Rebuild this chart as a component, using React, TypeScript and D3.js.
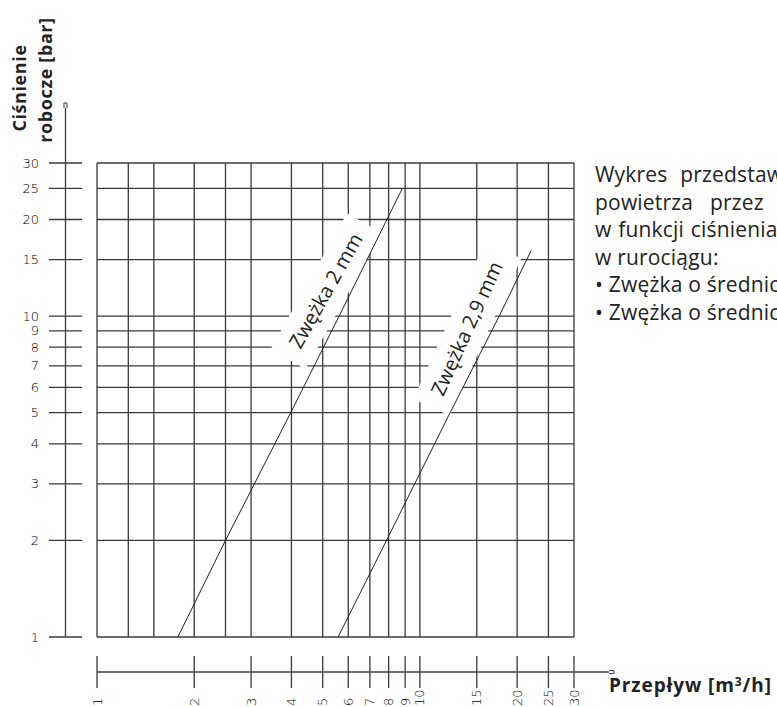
import React, { useRef, useEffect } from 'react';
import * as d3 from 'd3';

// bottom axis: flow [m3/h]
const flowTicks = [1, 2, 3, 4, 5, 6, 7, 8, 9, 10, 15, 20, 25, 30];
// vertical grid lines without a tick on the axis
const flowGridExtra = [1.25, 1.5, 2.5];
// left axis: working pressure [bar]
const pressureTicks = [1, 2, 3, 4, 5, 6, 7, 8, 9, 10, 15, 20, 25, 30];

// orifice 2 mm (pressure bar -> flow m3/h)
const orifice2Pressure = [1, 2, 5, 10, 25];
const orifice2Flow = [1.78, 2.5, 3.98, 5.62, 8.82];

// orifice 2,9 mm
const orifice29Pressure = [1, 2, 5, 10, 16];
const orifice29Flow = [5.58, 7.88, 12.4, 17.6, 22.1];

const seriesNames = ['Zwężka 2 mm', 'Zwężka 2,9 mm'];
const labelPressure = [11, 8.5];

const noteLines = [
  'Wykres przedstawia przepływ',
  'powietrza przez zwężkę',
  'w funkcji ciśnienia roboczego',
  'w rurociągu:',
  '• Zwężka o średnicy 2 mm',
  '• Zwężka o średnicy 2,9 mm',
];
const noteWordSpacing = [7, 11, 1, 0, 0, 0];

const sans = "'Open Sans', 'Noto Sans', sans-serif";
const cad = "'DejaVu Sans', sans-serif";

function Chart() {
  const ref = useRef<SVGSVGElement | null>(null);

  useEffect(() => {
    const svg = d3.select(ref.current);
    svg.selectAll('*').remove();

    const x = d3.scaleLog().domain([1, 30]).range([97, 574]);
    const y = d3.scaleLog().domain([1, 30]).range([637, 163]);
    const ink = '#3a3a3a';

    // grid
    const grid = svg.append('g').attr('stroke', ink).attr('stroke-width', 1.3);
    grid.selectAll('line.h')
      .data(pressureTicks)
      .enter()
      .append('line')
      .attr('x1', x(1)).attr('x2', x(30))
      .attr('y1', (d) => y(d)).attr('y2', (d) => y(d));
    grid.selectAll('line.v')
      .data(flowTicks.concat(flowGridExtra))
      .enter()
      .append('line')
      .attr('x1', (d) => x(d)).attr('x2', (d) => x(d))
      .attr('y1', y(1)).attr('y2', y(30));

    // left axis
    const axisX = 65.5;
    const left = svg.append('g');
    left.append('line')
      .attr('x1', axisX).attr('x2', axisX).attr('y1', 108).attr('y2', y(1))
      .attr('stroke', ink).attr('stroke-width', 1.3);
    left.append('path')
      .attr('d', `M${axisX - 1.5},108 L${axisX - 1.5},103 L${axisX + 1.5},103 L${axisX + 1.5},108`)
      .attr('fill', 'none').attr('stroke', ink).attr('stroke-width', 1);
    left.selectAll('line.t')
      .data(pressureTicks)
      .enter()
      .append('line')
      .attr('x1', 49).attr('x2', 82)
      .attr('y1', (d) => y(d)).attr('y2', (d) => y(d))
      .attr('stroke', ink).attr('stroke-width', 1.3);
    left.selectAll('text')
      .data(pressureTicks)
      .enter()
      .append('text')
      .attr('x', 39).attr('y', (d) => y(d))
      .attr('text-anchor', 'end')
      .attr('dominant-baseline', 'central')
      .style('font-family', cad).style('font-size', '13px').style('font-weight', 300)
      .attr('fill', '#000')
      .text((d) => d);

    // bottom axis
    const axisY = 672;
    const bottom = svg.append('g');
    bottom.append('line')
      .attr('x1', x(1)).attr('x2', 609).attr('y1', axisY).attr('y2', axisY)
      .attr('stroke', ink).attr('stroke-width', 1.3);
    bottom.append('path')
      .attr('d', `M609,${axisY - 1.5} L614,${axisY - 1.5} L614,${axisY + 1.5} L609,${axisY + 1.5}`)
      .attr('fill', 'none').attr('stroke', ink).attr('stroke-width', 1);
    bottom.selectAll('line.t')
      .data(flowTicks)
      .enter()
      .append('line')
      .attr('x1', (d) => x(d)).attr('x2', (d) => x(d))
      .attr('y1', 656).attr('y2', 688)
      .attr('stroke', ink).attr('stroke-width', 1.3);
    bottom.selectAll('text')
      .data(flowTicks)
      .enter()
      .append('text')
      .attr('transform', (d) => `translate(${x(d)},706) rotate(-90)`)
      .attr('text-anchor', 'start')
      .attr('dominant-baseline', 'central')
      .style('font-family', cad).style('font-size', '13px').style('font-weight', 300)
      .attr('fill', '#000')
      .text((d) => d);

    // curves with their labels on white bands
    const series = [
      { p: orifice2Pressure, q: orifice2Flow },
      { p: orifice29Pressure, q: orifice29Flow },
    ];
    series.forEach((s, k) => {
      const qOf = d3.scaleLog().domain(s.p).range(s.q);
      const lp = labelPressure[k];
      const px = x(qOf(lp));
      const py = y(lp);
      const ang = Math.atan2(y(lp * 1.2) - py, x(qOf(lp * 1.2)) - px) * 180 / Math.PI;
      const g = svg.append('g').attr('transform', `translate(${px},${py}) rotate(${ang})`);
      const band = g.append('rect').attr('fill', '#fff');
      const t = g.append('text')
        .attr('x', 0).attr('y', -25)
        .attr('text-anchor', 'middle')
        .attr('dominant-baseline', 'central')
        .style('font-family', sans).style('font-size', '20px')
        .attr('fill', '#222')
        .text(seriesNames[k]);
      const w = (t.node() as SVGTextElement).getComputedTextLength();
      band.attr('x', -w / 2 - 14).attr('width', w + 28).attr('y', -44).attr('height', 40);
    });
    series.forEach((s) => {
      const path = d3.line<number>()
        .x((d, i) => x(s.q[i]))
        .y((d) => y(d));
      svg.append('path')
        .attr('d', path(s.p))
        .attr('fill', 'none')
        .attr('stroke', '#222')
        .attr('stroke-width', 1);
    });

    // axis titles
    const title = svg.append('g')
      .style('font-family', sans).style('font-weight', 700).style('font-size', '18px')
      .style('letter-spacing', '0.6px').attr('fill', '#222');
    title.append('text')
      .attr('transform', 'translate(26,88) rotate(-90)')
      .attr('text-anchor', 'middle')
      .text('Ciśnienie');
    title.append('text')
      .attr('transform', 'translate(52,80) rotate(-90)')
      .attr('text-anchor', 'middle')
      .text('robocze [bar]');
    const xt = svg.append('text')
      .attr('x', 609).attr('y', 692)
      .style('font-family', sans).style('font-weight', 700).style('font-size', '19px')
      .style('letter-spacing', '0.9px').attr('fill', '#222');
    xt.append('tspan').text('Przepływ  [m');
    xt.append('tspan').attr('dy', -6).style('font-size', '12px').text('3');
    xt.append('tspan').attr('dy', 6).text('/h]');

    // note on the right
    svg.append('g')
      .selectAll('text')
      .data(noteLines)
      .enter()
      .append('text')
      .attr('x', 595)
      .attr('y', (d, i) => 182 + i * 27.5)
      .attr('word-spacing', (d, i) => noteWordSpacing[i])
      .style('font-family', sans).style('font-size', '21px')
      .style('letter-spacing', '0.2px')
      .attr('fill', '#222')
      .text((d) => d);
  }, []);

  return (
    <svg
      ref={ref}
      width={777}
      height={707}
      style={{ position: 'absolute', left: 0, top: 0, background: '#fff' }}
    />
  );
}

export default function App() {
  return <Chart />;
}
